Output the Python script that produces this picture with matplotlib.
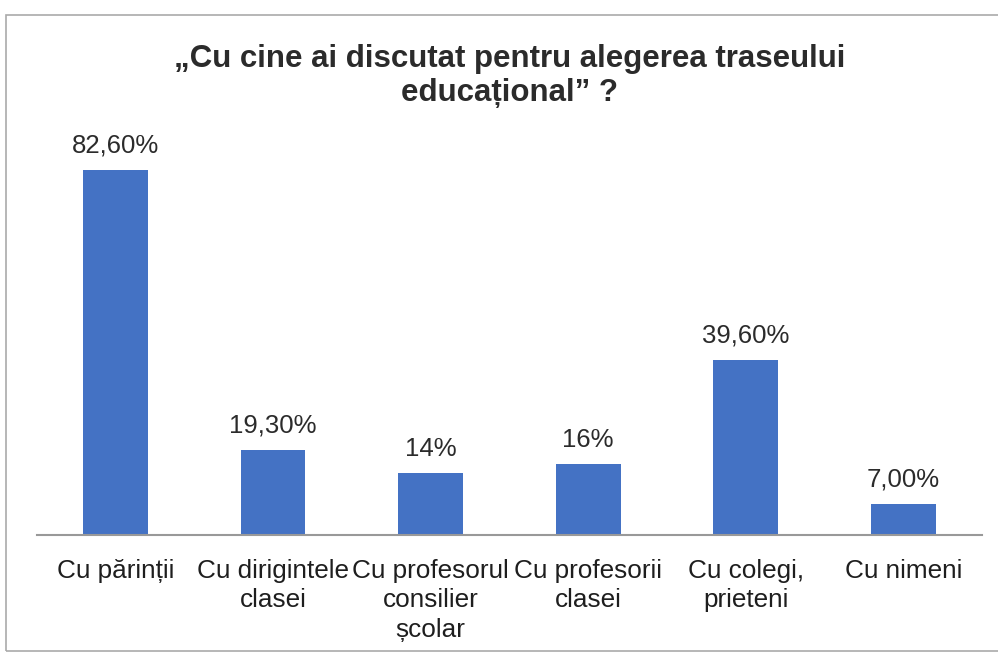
import matplotlib.pyplot as plt
from matplotlib.patches import Rectangle

# date
categorii = ["Cu părinții", "Cu dirigintele\nclasei", "Cu profesorul\nconsilier\nșcolar",
             "Cu profesorii\nclasei", "Cu colegi,\nprieteni", "Cu nimeni"]
procente = [82.6, 19.3, 14, 16, 39.6, 7.0]
etichete = ["82,60%", "19,30%", "14%", "16%", "39,60%", "7,00%"]

titlu = "„Cu cine ai discutat pentru alegerea traseului\neducațional” ?"

plt.rcParams['font.family'] = ['Liberation Sans', 'DejaVu Sans']

fig = plt.figure(figsize=(9.98, 6.54), dpi=100)
ax = fig.add_axes([0.037, 0.182, 0.947, 0.622])

x = range(len(categorii))
ax.bar(x, procente, width=0.41, color='#4472C4')

for xi, v, t in zip(x, procente, etichete):
    ax.annotate(t, (xi, v), xytext=(0, 9), textcoords='offset points',
                ha='center', va='bottom', fontsize=18.5, color='#2b2b2b')

ax.set_xlim(-0.5, len(categorii) - 0.5)
ax.set_ylim(0, 92)
ax.set_yticks([])
ax.set_xticks(list(x))
ax.set_xticklabels(categorii, fontsize=18.8, color='#1e1e1e', linespacing=1.3)
ax.tick_params(axis='x', length=0, pad=17)

for s in ['top', 'right', 'left']:
    ax.spines[s].set_visible(False)
ax.spines['bottom'].set_color('#999999')
ax.spines['bottom'].set_linewidth(1.5)

fig.text(0.511, 0.933, titlu, ha='center', va='top', fontsize=22.5,
         fontweight='bold', color='#2b2b2b', linespacing=1.2)

# chenar exterior
fig.patches.append(Rectangle((0.006, 0.005), 1.1, 0.972, transform=fig.transFigure,
                             fill=False, edgecolor='#aaaaaa', linewidth=1.2))

plt.savefig('out.png', dpi=100)
